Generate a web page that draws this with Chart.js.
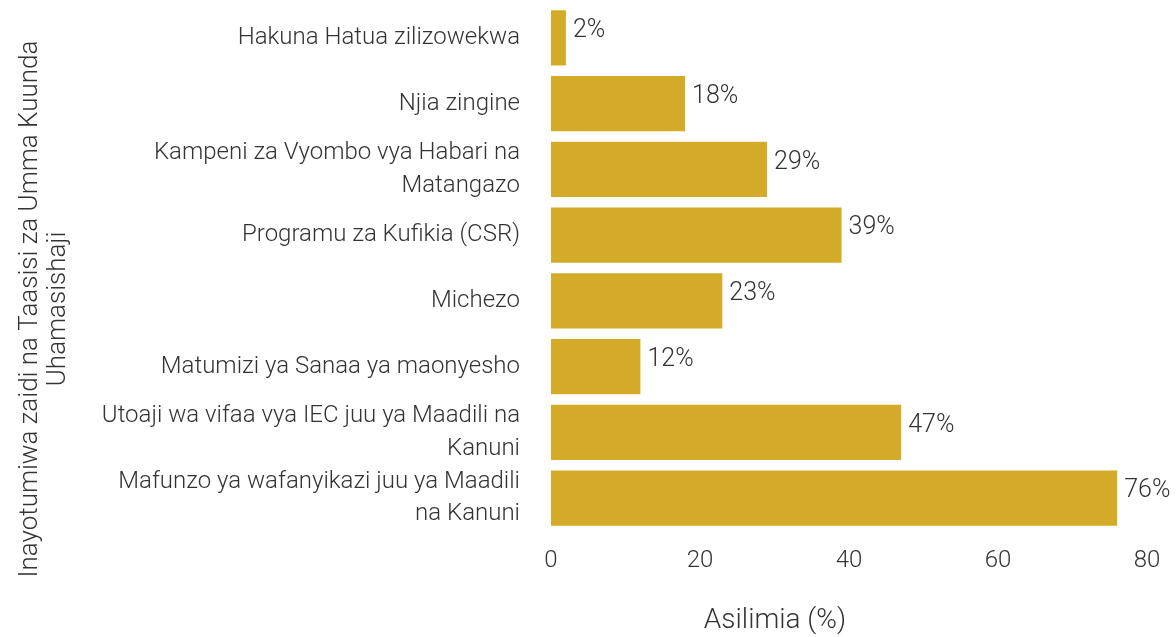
<!DOCTYPE html>
<html>
<head>
<meta charset="utf-8">
<script src="https://cdn.jsdelivr.net/npm/chart.js@4.4.1/dist/chart.umd.min.js"></script>
<style>
  html, body { margin: 0; padding: 0; background: #ffffff; }
  #wrap { width: 1176px; height: 637px; position: relative; }
</style>
</head>
<body>
<div id="wrap"><canvas id="c" width="1176" height="637"></canvas></div>
<script>
const categories = [
  ["Hakuna Hatua zilizowekwa"],
  ["Njia zingine"],
  ["Kampeni za Vyombo vya Habari na", "Matangazo"],
  ["Programu za Kufikia (CSR)"],
  ["Michezo"],
  ["Matumizi ya Sanaa ya maonyesho"],
  ["Utoaji wa vifaa vya IEC juu ya Maadili na", "Kanuni"],
  ["Mafunzo ya wafanyikazi juu ya Maadili", "na Kanuni"]
];
const values = [2, 18, 29, 39, 23, 12, 47, 76];
const xTicks = [0, 20, 40, 60, 80];
const xTitle = "Asilimia (%)";
const yTitle = ["Inayotumiwa zaidi na Taasisi za Umma Kuunda", "Uhamasishaji"];

const FONT = "Roboto, 'Liberation Sans', sans-serif";
const TEXT = "#333333";
const BAR = "#D4AB29";

const valueLabels = {
  id: 'valueLabels',
  afterDatasetsDraw(chart) {
    const ctx = chart.ctx;
    const meta = chart.getDatasetMeta(0);
    ctx.save();
    ctx.font = "300 25px " + FONT;
    ctx.fillStyle = TEXT;
    ctx.textAlign = 'left';
    ctx.textBaseline = 'middle';
    meta.data.forEach((el, i) => {
      ctx.fillText(values[i] + '%', el.x + 7, el.y - 7);
    });
    ctx.restore();
  }
};

const axisTitles = {
  id: 'axisTitles',
  afterDraw(chart) {
    const ctx = chart.ctx;
    ctx.save();
    ctx.fillStyle = TEXT;
    // x title
    ctx.font = "300 28px " + FONT;
    ctx.textAlign = 'center';
    ctx.textBaseline = 'middle';
    ctx.fillText(xTitle, 775, 621);
    // y title (rotated)
    ctx.font = "300 26px " + FONT;
    ctx.translate(0, 309);
    ctx.rotate(-Math.PI / 2);
    ctx.fillText(yTitle[0], 0, 30);
    ctx.fillText(yTitle[1], 0, 58);
    ctx.restore();
  }
};

new Chart(document.getElementById('c'), {
  type: 'bar',
  data: {
    labels: categories,
    datasets: [{
      data: values,
      backgroundColor: BAR,
      borderWidth: 0,
      barPercentage: 0.84,
      categoryPercentage: 1.0
    }]
  },
  options: {
    indexAxis: 'y',
    responsive: false,
    animation: false,
    devicePixelRatio: 1,
    layout: { padding: { top: 5, right: 29, left: 0, bottom: 0 } },
    plugins: {
      legend: { display: false },
      tooltip: { enabled: false },
      title: { display: false }
    },
    scales: {
      x: {
        min: 0,
        max: 80,
        afterBuildTicks(scale) { scale.ticks = xTicks.map(v => ({ value: v })); },
        afterFit(scale) { scale.height = 106; scale.paddingLeft = 0; scale.paddingRight = 0; },
        grid: { display: false, drawTicks: false },
        border: { display: false },
        ticks: {
          color: TEXT,
          font: { family: FONT, size: 24, weight: 300 },
          padding: 16,
          maxRotation: 0
        },
        title: { display: false }
      },
      y: {
        afterFit(scale) { scale.width = 551; scale.paddingTop = 0; scale.paddingBottom = 0; },
        grid: { display: false, drawTicks: false },
        border: { display: false },
        ticks: {
          color: TEXT,
          font: { family: FONT, size: 24, weight: 300, lineHeight: 1.35 },
          padding: 31,
          autoSkip: false
        },
        title: { display: false }
      }
    }
  },
  plugins: [valueLabels, axisTitles]
});
</script>
</body>
</html>
